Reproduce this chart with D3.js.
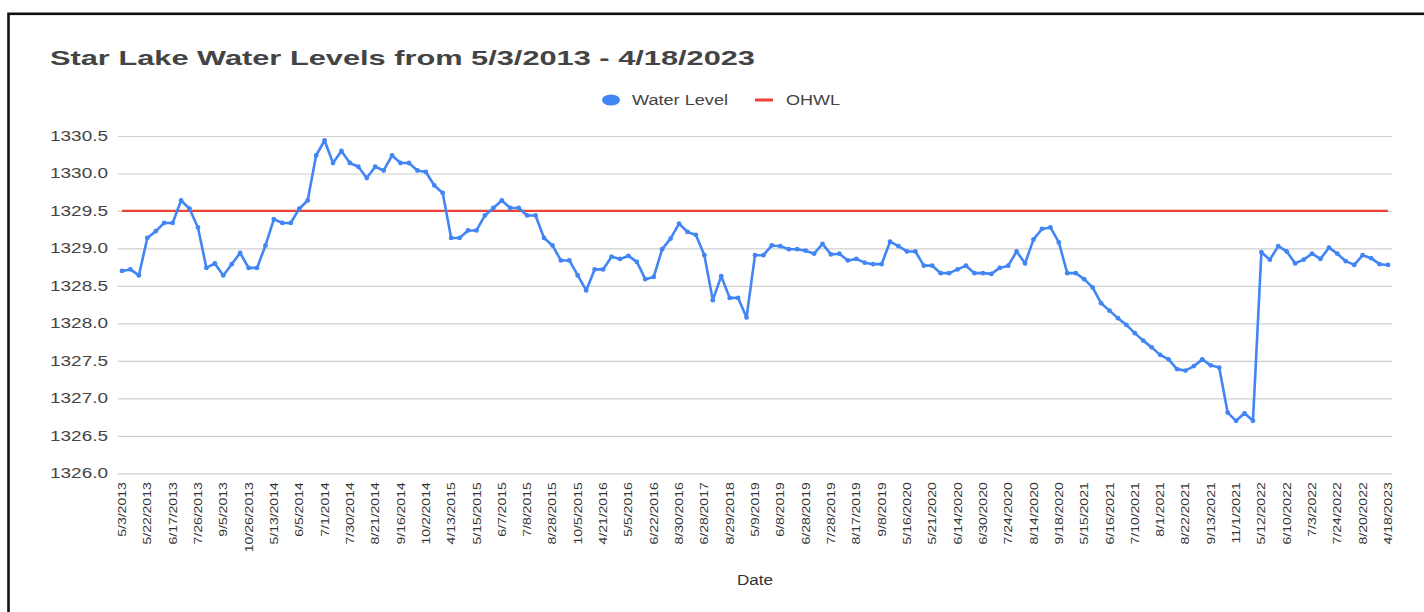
<!DOCTYPE html>
<html>
<head>
<meta charset="utf-8">
<script src="https://cdn.jsdelivr.net/npm/d3@7"></script>
<style>
  html, body { margin: 0; padding: 0; background: #fff; }
  svg { display: block; font-family: "Liberation Sans", Arial, sans-serif; }
</style>
</head>
<body>
<svg id="chart" width="1424" height="612"></svg>
<script>
// ---- data ----
const chartTitle = "Star Lake Water Levels from 5/3/2013 - 4/18/2023";
const seriesNames = ["Water Level", "OHWL"];
// tick labels (every 3rd measurement is labelled on the axis)
const tickLabels = [
  "5/3/2013","5/22/2013","6/17/2013","7/26/2013","9/5/2013","10/26/2013","5/13/2014","6/5/2014","7/1/2014","7/30/2014",
  "8/21/2014","9/16/2014","10/2/2014","4/13/2015","5/15/2015","6/7/2015","7/8/2015","8/28/2015","10/5/2015","4/21/2016",
  "5/5/2016","6/22/2016","8/30/2016","6/28/2017","8/29/2018","5/9/2019","6/8/2019","6/28/2019","7/28/2019","8/17/2019",
  "9/8/2019","5/16/2020","5/21/2020","6/14/2020","6/30/2020","7/24/2020","8/14/2020","9/18/2020","5/15/2021","6/16/2021",
  "7/10/2021","8/1/2021","8/22/2021","9/13/2021","11/1/2021","5/12/2022","6/10/2022","7/3/2022","7/24/2022","8/20/2022",
  "4/18/2023"
];
const labelEvery = 3;
const waterLevel = [
  1328.70,1328.72,1328.64,1329.14,1329.23,1329.34,1329.34,1329.64,1329.53,1329.28,
  1328.74,1328.80,1328.64,1328.79,1328.94,1328.74,1328.74,1329.04,1329.39,1329.34,
  1329.34,1329.53,1329.64,1330.24,1330.44,1330.14,1330.30,1330.14,1330.09,1329.94,
  1330.09,1330.04,1330.24,1330.14,1330.14,1330.04,1330.02,
  1329.84,1329.74,1329.14,1329.14,1329.24,1329.24,1329.44,1329.54,1329.64,1329.54,
  1329.54,1329.44,1329.44,1329.14,1329.04,1328.84,1328.84,1328.64,1328.44,1328.72,
  1328.72,1328.89,1328.86,1328.90,1328.82,1328.59,1328.62,1328.99,1329.13,1329.33,
  1329.22,1329.18,1328.91,1328.31,1328.63,1328.34,1328.34,1328.08,
  1328.91,1328.91,1329.04,1329.03,1328.99,1328.99,1328.97,1328.93,1329.06,1328.92,
  1328.93,1328.84,1328.86,1328.81,1328.79,1328.79,1329.09,1329.03,1328.96,1328.96,
  1328.77,1328.77,1328.67,1328.67,1328.72,1328.77,1328.67,1328.67,1328.66,1328.74,
  1328.77,1328.96,1328.80,1329.12,1329.26,1329.28,1329.08,
  1328.67,1328.67,1328.59,1328.48,1328.27,1328.17,1328.07,1327.98,1327.87,1327.77,
  1327.68,1327.58,1327.52,1327.39,1327.37,1327.43,1327.52,1327.44,1327.41,1326.81,
  1326.70,1326.80,1326.70,1328.95,1328.85,1329.03,1328.96,1328.80,1328.85,1328.93,
  1328.86,1329.01,1328.93,1328.83,1328.78,1328.91,1328.87,1328.79,1328.78
];
const ohwl = 1329.5;
const yTicks = [1326.0,1326.5,1327.0,1327.5,1328.0,1328.5,1329.0,1329.5,1330.0,1330.5];

// ---- layout ----
const svg = d3.select("#chart");
const plot = { left: 118, right: 1392, top: 136, bottom: 473.3 };
const idx = waterLevel.map((d, i) => i);
const x = d3.scalePoint().domain(idx).range([122, 1388]);
const y = d3.scaleLinear().domain([1326, 1330.5]).range([plot.bottom, plot.top]);

// border frame
svg.append("rect").attr("x", 8.5).attr("y", 13.8).attr("width", 1500).attr("height", 700)
  .attr("fill", "none").attr("stroke", "#111").attr("stroke-width", 2.6);

// title
svg.append("text").attr("x", 50).attr("y", 65)
  .attr("font-size", 21).attr("font-weight", "bold").attr("fill", "#444")
  .attr("textLength", 705).attr("lengthAdjust", "spacingAndGlyphs")
  .text(chartTitle);

// legend
const lg = svg.append("g");
lg.append("ellipse").attr("cx", 611).attr("cy", 100).attr("rx", 9).attr("ry", 5.6).attr("fill", "#4285F4");
lg.append("text").attr("x", 632).attr("y", 105).attr("font-size", 14).attr("fill", "#444")
  .attr("textLength", 96).attr("lengthAdjust", "spacingAndGlyphs").text(seriesNames[0]);
lg.append("line").attr("x1", 755).attr("x2", 773).attr("y1", 100).attr("y2", 100)
  .attr("stroke", "#EA4335").attr("stroke-width", 3);
lg.append("text").attr("x", 786).attr("y", 105).attr("font-size", 14).attr("fill", "#444")
  .attr("textLength", 54).attr("lengthAdjust", "spacingAndGlyphs").text(seriesNames[1]);

// gridlines + y axis
const yAxis = d3.axisLeft(y).tickValues(yTicks).tickSize(-(plot.right - plot.left))
  .tickFormat(d3.format(".1f")).tickPadding(10);
const gy = svg.append("g").attr("transform", `translate(${plot.left},0)`).call(yAxis);
gy.select(".domain").remove();
gy.selectAll(".tick line").attr("stroke", "#cfcfcf").attr("stroke-width", 1.2);
gy.selectAll(".tick text").attr("font-size", 14).attr("fill", "#444")
  .attr("textLength", 58).attr("lengthAdjust", "spacingAndGlyphs");

// x axis tick labels
const tickIdx = idx.filter(i => i % labelEvery === 0);
const xAxis = d3.axisBottom(x).tickValues(tickIdx).tickSize(0)
  .tickFormat(i => tickLabels[i / labelEvery]);
const gx = svg.append("g").attr("transform", `translate(0,${plot.bottom})`).call(xAxis);
gx.select(".domain").remove();
gx.selectAll(".tick text")
  .attr("font-size", 14).attr("fill", "#333")
  .attr("text-anchor", "end").attr("dy", null).attr("y", 0)
  .attr("dominant-baseline", "central")
  .attr("transform", "translate(0,9) rotate(-90) scale(1,0.8)");

// x axis title
svg.append("text").attr("x", 755).attr("y", 585).attr("text-anchor", "middle")
  .attr("font-size", 14).attr("fill", "#333").attr("textLength", 36)
  .attr("lengthAdjust", "spacingAndGlyphs").text("Date");

// OHWL series
svg.append("path").datum(idx)
  .attr("fill", "none").attr("stroke", "#EA4335").attr("stroke-width", 2.2)
  .attr("d", d3.line().x(i => x(i)).y(() => y(ohwl)));

// water level series
svg.append("path").datum(waterLevel)
  .attr("fill", "none").attr("stroke", "#4285F4").attr("stroke-width", 2.6)
  .attr("stroke-linejoin", "round")
  .attr("d", d3.line().x((d, i) => x(i)).y(d => y(d)));
svg.append("g").selectAll("circle").data(waterLevel).join("circle")
  .attr("cx", (d, i) => x(i)).attr("cy", d => y(d)).attr("r", 2.4).attr("fill", "#4285F4");
</script>
</body>
</html>
